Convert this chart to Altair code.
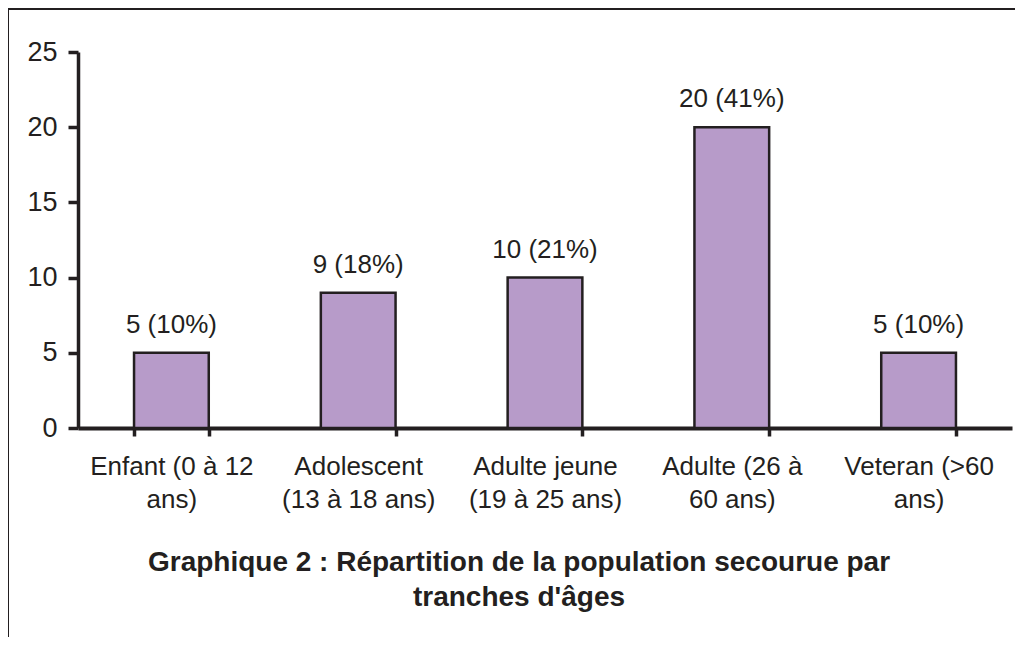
import altair as alt
import pandas as pd

categories = [
    "Enfant (0 à 12 ans)",
    "Adolescent (13 à 18 ans)",
    "Adulte jeune (19 à 25 ans)",
    "Adulte (26 à 60 ans)",
    "Veteran (>60 ans)",
]
label_lines = [
    ["Enfant (0 à 12", "ans)"],
    ["Adolescent", "(13 à 18 ans)"],
    ["Adulte jeune", "(19 à 25 ans)"],
    ["Adulte (26 à", "60 ans)"],
    ["Veteran (>60", "ans)"],
]
counts = [5, 9, 10, 20, 5]
percents = [10, 18, 21, 41, 10]
y_ticks = [0, 5, 10, 15, 20, 25]
title_lines = ["Graphique 2 : Répartition de la population secourue par", "tranches d'âges"]

df = pd.DataFrame({
    "cat": categories,
    "n": counts,
    "lab": [f"{c} ({p}%)" for c, p in zip(counts, percents)],
})

label_map = {c: "|".join(l) for c, l in zip(categories, label_lines)}
expr_parts = " : ".join([f"datum.label == '{c}' ? split('{label_map[c]}', '|')" for c in categories]) + " : datum.label"

INK = "#231f20"
FONT = "Liberation Sans"

x = alt.X(
    "cat:N", sort=categories, title=None,
    scale=alt.Scale(paddingInner=0.6, paddingOuter=0.3),
    axis=alt.Axis(
        labelAngle=0, labelFontSize=26, labelFont=FONT, labelColor=INK,
        labelLineHeight=33, labelPadding=17, labelExpr=expr_parts,
        tickBand="extent", tickSize=8, tickWidth=3.5, tickColor=INK,
        domainWidth=4, domainColor=INK, labelBaseline="top",
    ),
)
y = alt.Y(
    "n:Q", title=None,
    scale=alt.Scale(domain=[0, 25], nice=False),
    axis=alt.Axis(
        values=y_ticks, grid=False, labelFontSize=27, labelFont=FONT, labelColor=INK,
        labelPadding=11, tickSize=10, tickWidth=3.5, tickColor=INK,
        domainWidth=3.5, domainColor=INK,
    ),
)

bars = alt.Chart(df).mark_bar(
    fill="#b79bc9", stroke=INK, strokeWidth=2.5
).encode(x=x, y=y)

texts = alt.Chart(df).mark_text(
    fontSize=26, font=FONT, color=INK, baseline="alphabetic", dy=-20
).encode(x=alt.X("cat:N", sort=categories), y="n:Q", text="lab:N")

title_mark = alt.Chart(df.head(1)).mark_text(
    fontSize=28, font=FONT, fontWeight="bold", color=INK, align="center",
    baseline="alphabetic", lineHeight=35,
).encode(x=alt.value(441), y=alt.value(519), text=alt.value(title_lines))

frame_top = alt.Chart(df).mark_rule(color=INK, strokeWidth=2).encode(
    x=alt.value(-70), x2=alt.value(940), y=alt.value(-43)
)
frame_left = alt.Chart(df).mark_rule(color=INK, strokeWidth=1.5).encode(
    x=alt.value(-70), y=alt.value(-43), y2=alt.value(620)
)

chart = alt.layer(bars, texts, title_mark, frame_top, frame_left).properties(
    width=934, height=376,
    autosize=alt.AutoSizeParams(type="none"),
    padding={"left": 70, "top": 44, "right": 3, "bottom": 209},
).configure_view(stroke=None)

chart.save("out.html", embed_options={"renderer": "svg", "actions": False})
